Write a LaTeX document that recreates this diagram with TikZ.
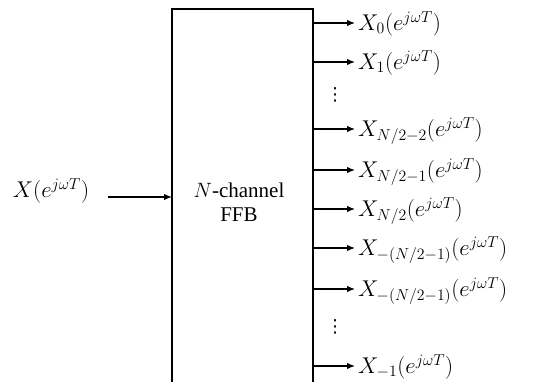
\documentclass[tikz,border=0pt]{standalone}
\usepackage{graphicx}
\usepackage{fontspec}
\setmainfont{Liberation Serif}
\newfontfamily\dejavu{DejaVu Sans}
\usetikzlibrary{arrows.meta}
\newcommand{\bigmath}[1]{\scalebox{1.1}{\fontsize{20.74}{24}\selectfont$#1$}}
\begin{document}
\begin{tikzpicture}[x=1pt,y=-1pt,
  lbl/.style={anchor=base west,inner sep=0pt},
  arr/.style={-{Latex[length=8pt,width=6.5pt]},line width=1.3pt},
  dotsn/.style={inner sep=0pt,font=\dejavu\fontsize{18}{20}\selectfont}]
\useasboundingbox (0,0) rectangle (538,382);
\coordinate (bl) at (172,384);
\coordinate (br) at (313,384);
\draw[line width=2pt] (bl) -- (172,9) -- (313,9) -- (br);
\node[inner sep=0pt,font=\fontsize{21}{24}\selectfont,anchor=base] (ffa) at (239,197) {$N$-channel};
\node[inner sep=0pt,font=\fontsize{21}{24}\selectfont,anchor=base] (ffb) at (239,222) {FFB};
\node[inner sep=0pt,anchor=base] (in) at (51,198) {\bigmath{X(e^{j\omega T})}};
\coordinate (ine) at (172,197);
\coordinate (ins) at (108,197);
\draw[arr] (ins) -- (ine);
\foreach \y/\t [count=\i] in {23/{X_0(e^{j\omega T})},62/{X_1(e^{j\omega T})},129/{X_{N/2-2}(e^{j\omega T})},170/{X_{N/2-1}(e^{j\omega T})},209/{X_{N/2}(e^{j\omega T})},248/{X_{-(N/2-1)}(e^{j\omega T})},289/{X_{-(N/2-1)}(e^{j\omega T})},366/{X_{-1}(e^{j\omega T})}}{
  \coordinate (s\i) at (313,\y);
  \node[lbl] (o\i) at (358,\y+7.5) {\bigmath{\t}};
  \draw[arr] (s\i) -- ([xshift=-3pt]o\i.west |- s\i);
}
\node[dotsn] (d1) at (335,95) {⋮};
\node[dotsn] (d2) at (335,327) {⋮};
\end{tikzpicture}
\end{document}
